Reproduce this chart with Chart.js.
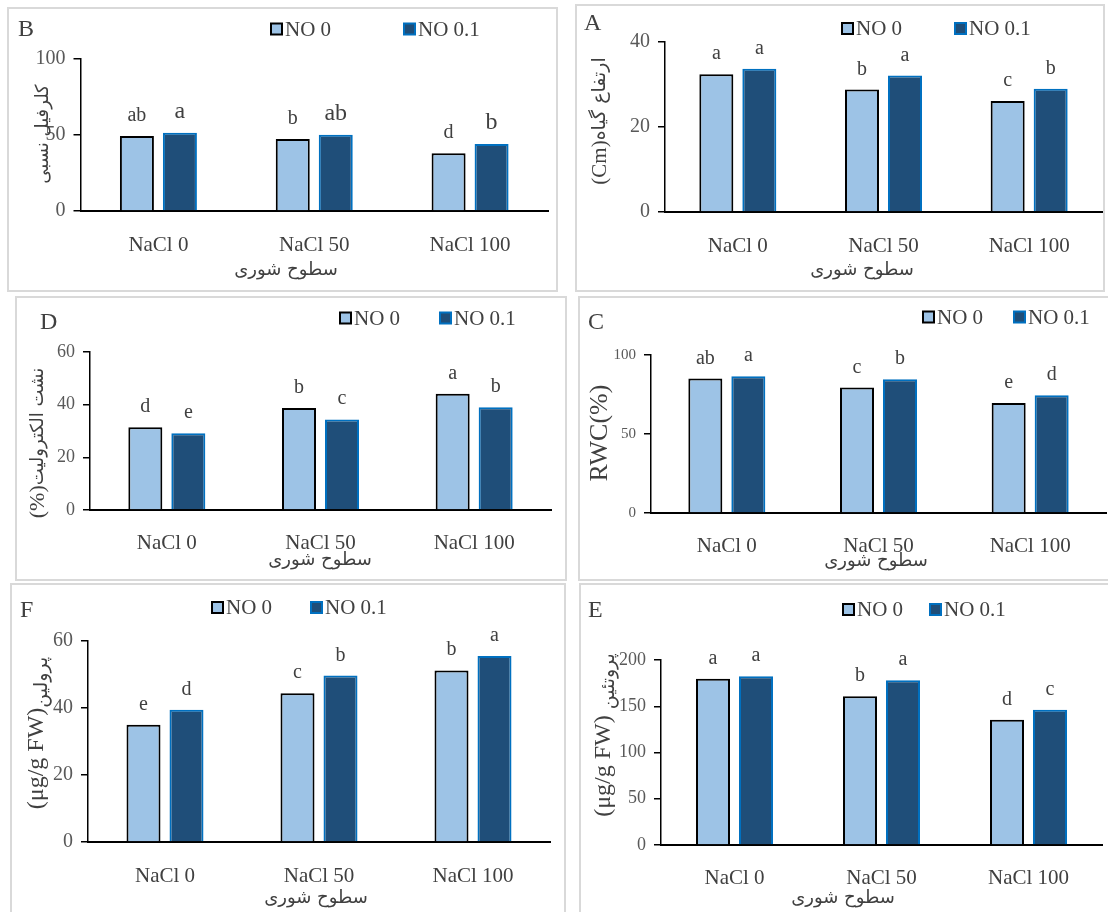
<!DOCTYPE html>
<html>
<head>
<meta charset="utf-8">
<title>NaCl x NO</title>
<script src="https://cdn.jsdelivr.net/npm/chart.js"></script>
<style>
  body { margin: 0; background: #fff; width: 1108px; height: 912px; overflow: hidden; position: relative; }
  .box { position: absolute; box-sizing: border-box; border: 2px solid #d9d9d9; }
  canvas { position: absolute; }
</style>
</head>
<body>
<script>
const categories = ['NaCl 0', 'NaCl 50', 'NaCl 100'];
const seriesNames = ['NO 0', 'NO 0.1'];
const xTitle = 'سطوح شوری';

// B - relative chlorophyll
const chlNo0 = [49.3, 47.3, 38.0];
const chlNo01 = [51.5, 50.2, 44.0];
const chlLetters0 = ['ab', 'b', 'd'];
const chlLetters01 = ['a', 'ab', 'b'];

// A - plant height (cm)
const heightNo0 = [32.4, 28.8, 26.1];
const heightNo01 = [33.7, 32.1, 29.0];
const heightLetters0 = ['a', 'b', 'c'];
const heightLetters01 = ['a', 'a', 'b'];

// D - electrolyte leakage (%)
const elNo0 = [31.4, 38.7, 44.1];
const elNo01 = [29.1, 34.4, 39.0];
const elLetters0 = ['d', 'b', 'a'];
const elLetters01 = ['e', 'c', 'b'];

// C - RWC (%)
const rwcNo0 = [85.1, 79.4, 69.6];
const rwcNo01 = [86.6, 84.6, 74.6];
const rwcLetters0 = ['ab', 'c', 'e'];
const rwcLetters01 = ['a', 'b', 'd'];

// F - proline
const proNo0 = [35.0, 44.4, 51.2];
const proNo01 = [39.5, 49.7, 55.5];
const proLetters0 = ['e', 'c', 'b'];
const proLetters01 = ['d', 'b', 'a'];

// E - protein
const protNo0 = [179.8, 160.8, 135.5];
const protNo01 = [182.4, 178.0, 146.3];
const protLetters0 = ['a', 'b', 'd'];
const protLetters01 = ['a', 'a', 'c'];

const SERIF = '"Liberation Serif", "Times New Roman", serif';
const ARAB = '"DejaVu Sans", sans-serif';
const INK = '#404040';
const TICK = '#595959';

function makeDeco(p) {
  const [bx, by] = p.box;
  return {
    id: 'deco',
    afterDatasetsDraw(chart) {
      const ctx = chart.ctx;
      chart.data.datasets.forEach((d, i) => {
        const meta = chart.getDatasetMeta(i);
        ctx.save();
        ctx.font = p.letterSize[i] + 'px ' + SERIF;
        ctx.fillStyle = INK;
        ctx.textAlign = 'center';
        ctx.textBaseline = 'alphabetic';
        meta.data.forEach((bar, j) => ctx.fillText(d.letters[j], bar.x, bar.y - 15));
        ctx.restore();
      });
    },
    afterDraw(chart) {
      const ctx = chart.ctx;
      ctx.save();
      ctx.fillStyle = INK;
      ctx.textBaseline = 'middle';
      ctx.textAlign = 'left';
      ctx.font = '24px ' + SERIF;
      ctx.fillText(p.tag, p.tagPos[0] - bx, p.tagPos[1] - by);

      // legend
      chart.data.datasets.forEach((d, i) => {
        const x = p.legendX[i] - bx, y = p.legendY - by;
        ctx.fillStyle = d.backgroundColor;
        ctx.fillRect(x, y - 5.5, 11, 11);
        ctx.strokeStyle = d.borderColor;
        ctx.lineWidth = 2;
        ctx.strokeRect(x, y - 5.5, 11, 11);
        ctx.fillStyle = INK;
        ctx.font = '21px ' + SERIF;
        ctx.fillText(d.label, x + 14, y + 1);
      });

      // x title
      ctx.font = '18px ' + ARAB;
      ctx.textAlign = 'center';
      ctx.fillText(xTitle, p.xTitle[0] - bx, p.xTitle[1] - by);

      // y title, read bottom to top
      ctx.translate(p.yTitle[0] - bx, p.yTitle[1] - by);
      ctx.rotate(-Math.PI / 2);
      ctx.textAlign = 'left';
      let total = 0;
      const widths = p.yParts.map(part => {
        ctx.font = part[2] + 'px ' + part[1];
        const w = ctx.measureText(part[0]).width;
        total += w;
        return w;
      });
      let pos = -total / 2;
      p.yParts.forEach((part, i) => {
        ctx.font = part[2] + 'px ' + part[1];
        ctx.fillText(part[0], pos, part[3] || 0);
        pos += widths[i];
      });
      ctx.restore();
    }
  };
}

function makePanel(p) {
  const [bx, by, bw, bh] = p.box;
  const [al, at, ar, ab] = p.area;

  const frame = document.createElement('div');
  frame.className = 'box';
  Object.assign(frame.style, { left: bx + 'px', top: by + 'px', width: bw + 'px', height: bh + 'px' });
  document.body.appendChild(frame);

  const cv = document.createElement('canvas');
  cv.width = bw;
  cv.height = bh;
  cv.style.left = bx + 'px';
  cv.style.top = by + 'px';
  document.body.appendChild(cv);

  const catW = (ar - al) / categories.length;
  const ds = (i, fill, line) => ({
    label: seriesNames[i],
    data: p.values[i],
    letters: p.letters[i],
    backgroundColor: fill,
    borderColor: line,
    borderWidth: 2,
    categoryPercentage: 86 / catW,
    barPercentage: 34 / 43
  });

  new Chart(cv, {
    type: 'bar',
    data: {
      labels: categories,
      datasets: [ds(0, '#9DC3E6', '#000000'), ds(1, '#1F4E79', '#0070C0')]
    },
    options: {
      responsive: false,
      animation: false,
      layout: { padding: { left: 0, top: at - by, right: bx + bw - ar, bottom: 0 } },
      scales: {
        x: {
          grid: { display: false },
          border: { display: true, color: '#000', width: 2 },
          ticks: { color: INK, font: { family: SERIF, size: 21 }, padding: p.catY - ab - 12, maxRotation: 0, autoSkip: false },
          afterFit: s => { s.height = by + bh - ab; }
        },
        y: {
          min: 0,
          max: p.yMax,
          ticks: { stepSize: p.yStep, color: TICK, font: { family: SERIF, size: p.tickSize }, padding: 8 },
          grid: { display: true, drawOnChartArea: false, drawTicks: true, tickLength: 7, color: '#000', lineWidth: 1.5 },
          border: { display: true, color: '#000', width: 1.5 },
          afterFit: s => { s.width = al - bx; }
        }
      },
      plugins: { legend: { display: false }, tooltip: { enabled: false } }
    },
    plugins: [makeDeco(p)]
  });
}

makePanel({
  tag: 'B', box: [7, 7, 551, 285], area: [80.5, 59, 548, 211],
  values: [chlNo0, chlNo01], letters: [chlLetters0, chlLetters01], letterSize: [20, 24],
  yMax: 100, yStep: 50, tickSize: 20, catY: 237,
  tagPos: [18, 30], legendX: [271, 404], legendY: 29,
  xTitle: [286, 270], yTitle: [43, 134],
  yParts: [['کلرفیل نسبی', ARAB, 18]]
});

makePanel({
  tag: 'A', box: [575, 4, 530, 288], area: [665, 42, 1102, 212],
  values: [heightNo0, heightNo01], letters: [heightLetters0, heightLetters01], letterSize: [20, 20],
  yMax: 40, yStep: 20, tickSize: 20, catY: 237.5,
  tagPos: [584, 23.5], legendX: [842, 955], legendY: 28.5,
  xTitle: [862, 270], yTitle: [600, 121],
  yParts: [['(Cm)', SERIF, 21], ['ارتفاع گیاه', ARAB, 19]]
});

makePanel({
  tag: 'D', box: [15, 296, 552, 285], area: [90, 352, 551, 510],
  values: [elNo0, elNo01], letters: [elLetters0, elLetters01], letterSize: [20, 20],
  yMax: 60, yStep: 20, tickSize: 18, catY: 535,
  tagPos: [40, 323], legendX: [340, 440], legendY: 318,
  xTitle: [320, 560], yTitle: [38, 443],
  yParts: [['(%)', SERIF, 22], ['نشت الکترولیت', ARAB, 18]]
});

makePanel({
  tag: 'C', box: [578, 296, 535, 285], area: [651, 355, 1106, 513],
  values: [rwcNo0, rwcNo01], letters: [rwcLetters0, rwcLetters01], letterSize: [20, 20],
  yMax: 100, yStep: 50, tickSize: 15, catY: 538,
  tagPos: [588, 323], legendX: [923, 1014], legendY: 317,
  xTitle: [876, 561], yTitle: [600, 433],
  yParts: [['RWC(%)', SERIF, 26]]
});

makePanel({
  tag: 'F', box: [10, 583, 556, 335], area: [88, 641, 550, 842],
  values: [proNo0, proNo01], letters: [proLetters0, proLetters01], letterSize: [20, 20],
  yMax: 60, yStep: 20, tickSize: 20, catY: 867.5,
  tagPos: [20, 611], legendX: [212, 311], legendY: 607.5,
  xTitle: [316, 898], yTitle: [37, 733],
  yParts: [['(μg/g FW)', SERIF, 24], ['پرولین', ARAB, 19, 5]]
});

makePanel({
  tag: 'E', box: [579, 583, 535, 335], area: [661, 660, 1102, 845],
  values: [protNo0, protNo01], letters: [protLetters0, protLetters01], letterSize: [20, 20],
  yMax: 200, yStep: 50, tickSize: 18, catY: 870,
  tagPos: [588, 611], legendX: [843, 930], legendY: 609.5,
  xTitle: [843, 898], yTitle: [604, 735],
  yParts: [['(μg/g FW)', SERIF, 24], [' پروتئین', ARAB, 19, 5]]
});
</script>
</body>
</html>
